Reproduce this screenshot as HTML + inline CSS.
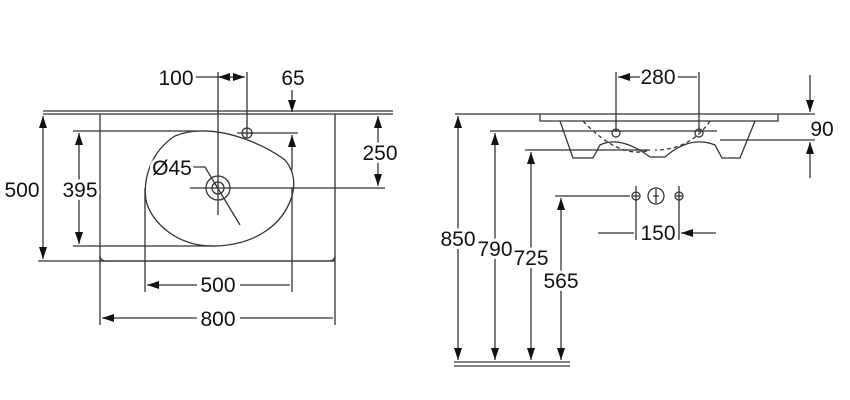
<!DOCTYPE html>
<html><head><style>body{margin:0;background:#fff}svg{display:block}text{font-family:"Liberation Sans",sans-serif;font-size:21px;fill:#111;stroke:#fff;stroke-width:6px;paint-order:stroke;stroke-linejoin:round}</style></head><body>
<svg width="850" height="400" viewBox="0 0 850 400">
<defs><marker id="a" viewBox="0 0 12 10" refX="12" refY="5" markerWidth="12" markerHeight="10" orient="auto-start-reverse" markerUnits="userSpaceOnUse"><path d="M0,1L12,5L0,9z" fill="#111"/></marker></defs>
<g stroke="#333" stroke-width="1.3" fill="none">
<path d="M43,111H393M43,114H393"/>
<path d="M100,114V325M335,114V325M100,255Q100,261 106,261H329Q335,261 335,255"/>
<path d="M38,261H335"/>
<path d="M43,116V259" marker-start="url(#a)" marker-end="url(#a)"/>
<path d="M73,131H200M73,246H215"/>
<path d="M79,133V244" marker-start="url(#a)" marker-end="url(#a)"/>
<path d="M200,131C230,130 265,145 285,160C295,172 295,185 292,196C283,225 255,245 215,246C175,247 150,220 146,200C143,180 150,152 175,136C185,132 195,131 200,131Z"/>
<path d="M218,72V215M247,72V128M237,133H298"/>
<circle cx="247" cy="133" r="5"/><path d="M242,133H252M247,128V138"/>
<circle cx="218" cy="188" r="6"/><circle cx="218" cy="188" r="12"/>
<path d="M190,188H385"/>
<path d="M190,77H218"/>
<path d="M218,77H245" marker-start="url(#a)" marker-end="url(#a)"/>
<path d="M292,90V112" marker-end="url(#a)"/><path d="M292,170V135" marker-end="url(#a)"/>
<path d="M378,116V186" marker-start="url(#a)" marker-end="url(#a)"/>
<path d="M192,167H205L240,225"/>
<path d="M145,188V292M292,188V292"/>
<path d="M147,285H197M240,285H290" marker-start="url(#a)"/>
<path d="M102,318H197M240,318H333" marker-start="url(#a)"/>
<path d="M455,114H815"/>
<path d="M540,114V121H778V114M560,121L573,158H593L600,145Q620,135 650,157H665Q690,135 715,145L722,158H740L755,121"/>
<path d="M583,121Q620,160 650,150M710,121Q690,150 655,150" stroke-dasharray="4,3"/>
<path d="M616,72V132M699,72V132"/>
<circle cx="616" cy="133" r="4"/><circle cx="699" cy="133" r="4"/>
<path d="M618,77H640M677,77H697" marker-start="url(#a)"/>
<path d="M810,75V112" marker-end="url(#a)"/><path d="M810,178V142" marker-end="url(#a)"/>
<path d="M720,140H815"/>
<path d="M490,131H717M525,150H650M555,196H630"/>
<path d="M458,116V360" marker-start="url(#a)" marker-end="url(#a)"/>
<path d="M495,133V360" marker-start="url(#a)" marker-end="url(#a)"/>
<path d="M531,152V360" marker-start="url(#a)" marker-end="url(#a)"/>
<path d="M561,198V360" marker-start="url(#a)" marker-end="url(#a)"/>
<path d="M454,362H570M454,366H570"/>
<circle cx="636" cy="196" r="4"/><circle cx="656" cy="196" r="8"/><circle cx="679" cy="196" r="4"/>
<path d="M633,196H639M653,196H659M656,189V203M676,196H682"/>
<path d="M636,186V240M679,186V240"/>
<path d="M598,233H634M716,233H681" marker-end="url(#a)"/>
</g>
<g text-anchor="middle">
<text x="176" y="85">100</text><text x="293" y="85">65</text>
<text x="380" y="160">250</text>
<text x="22" y="197">500</text><text x="80" y="197">395</text>
<text x="172" y="175">Ø45</text>
<text x="218" y="292">500</text><text x="218" y="326">800</text>
<text x="658" y="84">280</text><text x="822" y="136">90</text>
<text x="458" y="246">850</text><text x="495" y="256">790</text><text x="531" y="265">725</text><text x="561" y="288">565</text>
<text x="658" y="240">150</text>
</g>
</svg>
</body></html>
